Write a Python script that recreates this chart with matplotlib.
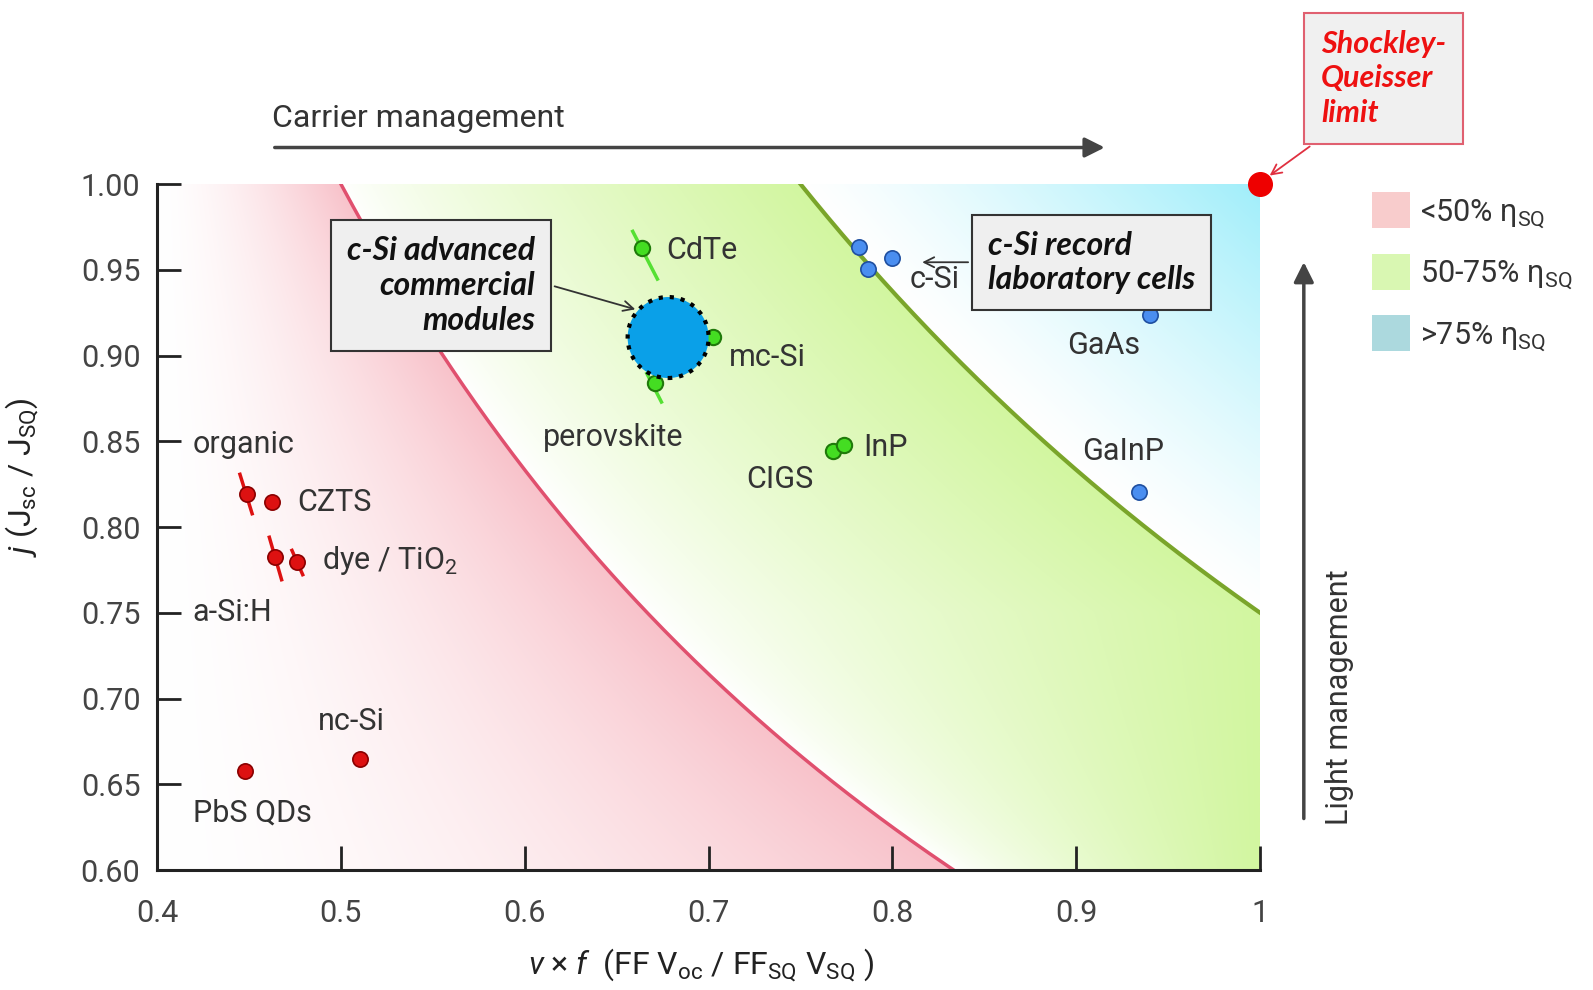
import matplotlib
matplotlib.use("Agg")
import matplotlib.pyplot as plt
import numpy as np
from matplotlib.patches import Patch

# ---- data ----
eta_levels = [0.5, 0.75]          # iso-efficiency boundaries (fraction of SQ)

red_names = ["organic", "CZTS", "dye1", "dye2", "PbS QDs", "nc-Si"]
red_x = [0.4487, 0.4625, 0.4640, 0.4763, 0.4481, 0.5106]
red_y = [0.8190, 0.8145, 0.7825, 0.7796, 0.6580, 0.6650]

green_names = ["CdTe", "mc-Si", "perovskite", "CIGS", "InP"]
green_x = [0.6638, 0.7025, 0.6710, 0.7677, 0.7738]
green_y = [0.9627, 0.9110, 0.8839, 0.8442, 0.8477]

blue_names = ["c-Si a", "c-Si b", "c-Si c", "GaAs", "GaInP"]
blue_x = [0.7816, 0.7998, 0.7866, 0.9403, 0.9342]
blue_y = [0.9633, 0.9567, 0.9502, 0.9236, 0.8204]

# spread bars (x0, y0, x1, y1)
red_bars = [(0.4448, 0.8317, 0.4520, 0.8068),
            (0.4608, 0.7950, 0.4680, 0.7683),
            (0.4730, 0.7873, 0.4796, 0.7713)]
green_bars = [(0.6583, 0.9733, 0.6726, 0.9437),
              (0.6660, 0.8904, 0.6748, 0.8720)]

module_x, module_y = 0.678, 0.9105   # c-Si advanced commercial modules
sq_x, sq_y = 1.0, 1.0

# labels: text, x, y
point_labels = [
    ("organic", 0.4194, 0.8483), ("CZTS", 0.4763, 0.8145),
    ("dye / TiO$_2$", 0.4896, 0.7807), ("a-Si:H", 0.4194, 0.7500),
    ("nc-Si", 0.4874, 0.6865), ("PbS QDs", 0.4194, 0.6332),
    ("CdTe", 0.6770, 0.9610), ("mc-Si", 0.7113, 0.8987),
    ("perovskite", 0.6100, 0.8524), ("CIGS", 0.7207, 0.8276),
    ("InP", 0.7843, 0.8465), ("c-Si", 0.8092, 0.9443),
    ("GaAs", 0.8949, 0.9058), ("GaInP", 0.9032, 0.8442),
]

xticks = [0.4, 0.5, 0.6, 0.7, 0.8, 0.9, 1.0]
xtick_labels = ["0.4", "0.5", "0.6", "0.7", "0.8", "0.9", "1"]
yticks = [0.60, 0.65, 0.70, 0.75, 0.80, 0.85, 0.90, 0.95, 1.00]

legend_labels = ["<50% η$_{\\rm SQ}$", "50-75% η$_{\\rm SQ}$", ">75% η$_{\\rm SQ}$"]
legend_colors = ["#f8cccc", "#d9f7b2", "#acd9de"]

FONT = ["Roboto", "DejaVu Sans"]
BOXFONT = ["Lato", "DejaVu Sans"]
plt.rcParams["font.family"] = FONT
plt.rcParams["mathtext.fontset"] = "custom"
plt.rcParams["mathtext.rm"] = "Roboto"
plt.rcParams["mathtext.it"] = "Roboto:italic"
plt.rcParams["mathtext.bf"] = "Roboto:bold"
TXT = "#333333"

fig = plt.figure(figsize=(15.93, 9.90), dpi=100)
ax = fig.add_axes([0.0986, 0.1212, 0.6924, 0.6929])
ax.set_xlim(0.4, 1.0)
ax.set_ylim(0.6, 1.0)

# ---- background shading ----
xs = np.linspace(0.4, 1.0, 700)
ys = np.linspace(0.6, 1.0, 470)
X, Y = np.meshgrid(xs, ys)
eta = X * Y
xr = eta_levels[0] / Y
xg = eta_levels[1] / Y
rgb = np.ones(X.shape + (3,))

pink = np.array([248, 194, 202]) / 255
green = np.array([210, 246, 160]) / 255
cyan = np.array([160, 238, 250]) / 255

t_p = np.clip((X - 0.4) / (xr - 0.4), 0, 1) ** 1.5
t_g = np.clip((X - xr) / (np.minimum(xg, 1.0) - xr), 0, 1) ** 0.8
t_b = np.clip((eta - eta_levels[1]) / (1 - eta_levels[1]), 0, 1) ** 1.2

for t, c, m in [(t_p, pink, eta < eta_levels[0]),
                (t_g, green, (eta >= eta_levels[0]) & (eta < eta_levels[1])),
                (t_b, cyan, eta >= eta_levels[1])]:
    for k in range(3):
        rgb[..., k] = np.where(m, 1 - t * (1 - c[k]), rgb[..., k])

ax.imshow(rgb, origin="lower", extent=[0.4, 1.0, 0.6, 1.0], aspect="auto",
          interpolation="bilinear", zorder=0)

# iso-efficiency curves
for lev, col, lw in [(eta_levels[0], "#e0506e", 2.5), (eta_levels[1], "#7aa52a", 3.0)]:
    cx = np.linspace(lev, min(lev / 0.6, 1.0), 200)
    ax.plot(cx, lev / cx, color=col, lw=lw, zorder=1)

# ---- data points ----
for x0, y0, x1, y1 in red_bars:
    ax.plot([x0, x1], [y0, y1], color="#dd1111", lw=2.5, zorder=2, solid_capstyle="butt")
for x0, y0, x1, y1 in green_bars:
    ax.plot([x0, x1], [y0, y1], color="#55e033", lw=2.5, zorder=2, solid_capstyle="butt")

ax.plot(red_x, red_y, "o", ms=11, mfc="#dd1111", mec="#8a0000", mew=1.2, ls="none", zorder=3)
ax.plot(green_x, green_y, "o", ms=11, mfc="#44dd22", mec="#1f7a0a", mew=1.5, ls="none", zorder=3)
ax.plot(blue_x, blue_y, "o", ms=11, mfc="#4a8ef0", mec="#1f4fa0", mew=1.2, ls="none", zorder=3)

ax.scatter([module_x], [module_y], s=3400, c="#0aa0e8", edgecolors="black",
           linewidths=3, linestyles=":", zorder=4)

ax.plot([sq_x], [sq_y], "o", ms=17, color="#ee0000", clip_on=False, zorder=6)

for txt, x, y in point_labels:
    ax.text(x, y, txt, fontsize=22, color=TXT, ha="left", va="center", zorder=5)

# ---- annotation boxes ----
box = dict(boxstyle="square,pad=0.5", fc="#efefef", ec="#333333", lw=1.5)
ax.annotate("c-Si advanced\ncommercial\nmodules", xy=(0.6616, 0.9265),
            xytext=(0.6057, 0.9407), textcoords="data",
            fontsize=23, fontweight="bold", fontstyle="italic", family=BOXFONT,
            ha="right", va="center", multialignment="right", color="#111111",
            linespacing=1.25, bbox=box, zorder=7,
            arrowprops=dict(arrowstyle="->", color="#333333", lw=1.3, relpos=(1, 0.55),
                            mutation_scale=18))
ax.annotate("c-Si record\nlaboratory cells", xy=(0.8147, 0.9544),
            xytext=(0.8518, 0.9544), textcoords="data",
            fontsize=23, fontweight="bold", fontstyle="italic", family=BOXFONT,
            ha="left", va="center", multialignment="left", color="#111111",
            linespacing=1.2, bbox=box, zorder=7,
            arrowprops=dict(arrowstyle="->", color="#333333", lw=1.3, relpos=(0, 0.5),
                            mutation_scale=18))
sq_box = dict(boxstyle="square,pad=0.55", fc="#f0f0f0", ec="#e06070", lw=1.5)
ax.annotate("Shockley-\nQueisser\nlimit", xy=(1.004, 1.004),
            xytext=(1.0332, 1.0616), textcoords="data",
            fontsize=22, fontweight="bold", fontstyle="italic", family=BOXFONT,
            ha="left", va="center", color="#ee1111", linespacing=1.3,
            bbox=sq_box, zorder=7, annotation_clip=False,
            arrowprops=dict(arrowstyle="->", color="#e03040", lw=1.3, relpos=(0.12, 0),
                            mutation_scale=18))

# ---- management arrows ----
ax.annotate("", xy=(0.917, 1.0213), xytext=(0.4625, 1.0213), annotation_clip=False,
            arrowprops=dict(arrowstyle="-|>", color="#444444", lw=2.5, mutation_scale=30))
ax.text(0.4625, 1.038, "Carrier management", fontsize=23, color=TXT,
        ha="left", va="center", clip_on=False)
ax.annotate("", xy=(1.0238, 0.9561), xytext=(1.0238, 0.6284), annotation_clip=False,
            arrowprops=dict(arrowstyle="-|>", color="#444444", lw=2.5, mutation_scale=30))
ax.text(1.0431, 0.626, "Light management", fontsize=22, color=TXT, rotation=90,
        ha="center", va="bottom", clip_on=False)

# ---- legend ----
handles = [Patch(facecolor=c, edgecolor="none") for c in legend_colors]
ax.legend(handles, legend_labels, loc="upper left", bbox_to_anchor=(1.09, 1.006),
          frameon=False, fontsize=22, handlelength=1.25, handleheight=1.45,
          handletextpad=0.35, labelspacing=0.78, labelcolor=TXT, borderaxespad=0)

# ---- axes styling ----
ax.spines["top"].set_visible(False)
ax.spines["right"].set_visible(False)
for s in ("left", "bottom"):
    ax.spines[s].set_linewidth(2.2)
    ax.spines[s].set_color("#222222")
ax.set_xticks(xticks)
ax.set_xticklabels(xtick_labels)
ax.set_yticks(yticks)
ax.set_yticklabels([f"{v:.2f}" for v in yticks])
ax.tick_params(direction="in", length=17, width=2, color="#222222",
               labelsize=22, labelcolor="#444444")
ax.tick_params(axis="x", pad=21)
ax.tick_params(axis="y", pad=12)

ax.set_xlabel(r"$\mathit{v}$ $\times$ $\mathit{f}$  (FF V$_{\rm oc}$ / FF$_{\rm SQ}$ V$_{\rm SQ}$ )",
              fontsize=23, color="#222222")
ax.xaxis.set_label_coords(0.493, -0.112)
ax.set_ylabel(r"$\mathit{j}$ (J$_{\rm sc}$ / J$_{\rm SQ}$)", fontsize=23,
              color="#222222")
ax.yaxis.set_label_coords(-0.105, 0.572)

fig.savefig("out.png", dpi=100)
